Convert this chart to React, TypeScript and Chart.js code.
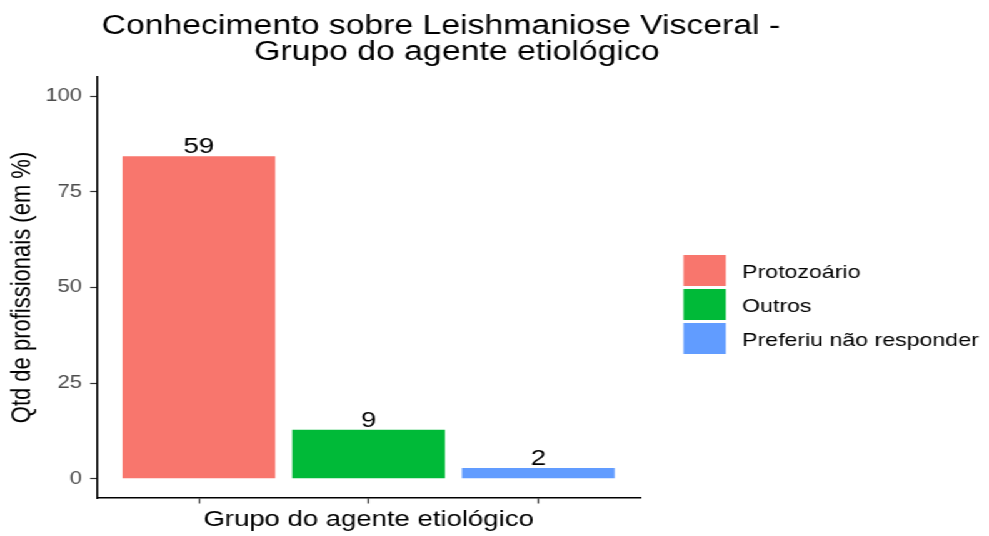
import React, { useEffect, useRef } from "react";
import { Chart, registerables } from "chart.js";

Chart.register(...registerables);

// ---- data ----
const CATEGORIES = ["Protozoário", "Outros", "Preferiu não responder"];
const PERCENTS = [84.29, 12.86, 2.86];
const COUNTS = [59, 9, 2];
const COLORS = ["#F8766D", "#00BA38", "#619CFF"];
const X_POSITIONS = [1, 2, 3];
const Y_TICKS = [0, 25, 50, 75, 100];
const TITLE_LINES = ["Conhecimento sobre Leishmaniose Visceral -", "Grupo do agente etiológico"];
const X_TITLE = "Grupo do agente etiológico";
const Y_TITLE = "Qtd de profissionais (em %)";

// ---- layout ----
const W = 791;
const H = 536;
const SX = 989 / W;
const FONT = '"Liberation Sans", Arial, Helvetica, sans-serif';

const decor = {
  id: "decor",
  afterDatasetsDraw(chart: any) {
    const ctx = chart.ctx;
    const meta = chart.getDatasetMeta(0);
    ctx.save();
    ctx.font = `22px ${FONT}`;
    ctx.fillStyle = "#000";
    ctx.textAlign = "center";
    ctx.textBaseline = "alphabetic";
    meta.data.forEach((el: any, i: number) => {
      ctx.fillText(String(COUNTS[i]), el.x, el.y - 3);
    });
    ctx.restore();
  },
  afterDraw(chart: any) {
    const ctx = chart.ctx;
    ctx.save();
    // title
    ctx.font = `27px ${FONT}`;
    ctx.fillStyle = "#000";
    ctx.textAlign = "center";
    ctx.textBaseline = "alphabetic";
    ctx.fillText(TITLE_LINES[0], 352.7, 34);
    ctx.fillText(TITLE_LINES[1], 365.4, 59.5);
    // legend
    const keyX = 546.6;
    const keyW = 33.9;
    const keyH = 34;
    const top = 253.5;
    CATEGORIES.forEach((lab, i) => {
      const y = top + i * keyH;
      ctx.fillStyle = COLORS[i];
      ctx.fillRect(keyX, y + 1.5, keyW, keyH - 3);
      ctx.fillStyle = "#000";
      ctx.font = `18.5px ${FONT}`;
      ctx.textAlign = "left";
      ctx.textBaseline = "middle";
      ctx.fillText(lab, 593.6, y + keyH / 2 + 2);
    });
    ctx.restore();
  },
};

export default function App() {
  const ref = useRef<HTMLCanvasElement | null>(null);

  useEffect(() => {
    if (!ref.current) return;
    const chart = new Chart(ref.current, {
      type: "bar",
      data: {
        datasets: [
          {
            label: "Qtd",
            data: X_POSITIONS.map((x, i) => ({ x, y: PERCENTS[i] })),
            backgroundColor: COLORS,
            borderWidth: 0,
            categoryPercentage: 1,
            barPercentage: 0.9,
          } as any,
        ],
      },
      options: {
        animation: false,
        responsive: true,
        maintainAspectRatio: false,
        events: [],
        layout: { padding: { top: 77, right: 279, bottom: 0, left: 0 } },
        plugins: {
          legend: { display: false },
          title: { display: false },
          tooltip: { enabled: false },
        },
        scales: {
          x: {
            type: "linear",
            offset: false,
            min: 0.4,
            max: 3.6,
            afterBuildTicks: (s: any) => {
              s.ticks = X_POSITIONS.map((v) => ({ value: v }));
            },
            afterFit: (s: any) => {
              s.height = 38;
            },
            ticks: { display: false },
            grid: {
              offset: false,
              drawOnChartArea: false,
              drawTicks: true,
              tickLength: 5.5,
              tickColor: "#333333",
              tickWidth: 1.2,
            },
            border: { display: true, color: "#000", width: 1.5 },
            title: {
              display: true,
              text: X_TITLE,
              color: "#000",
              font: { family: FONT, size: 22 },
              padding: { top: 0, bottom: 2.4 },
            },
          },
          y: {
            min: -5,
            max: 105,
            afterBuildTicks: (s: any) => {
              s.ticks = Y_TICKS.map((v) => ({ value: v }));
            },
            afterFit: (s: any) => {
              s.width = 77.6;
            },
            ticks: {
              color: "#4D4D4D",
              font: { family: FONT, size: 17.6 },
              padding: 6.5,
            },
            grid: {
              drawOnChartArea: false,
              drawTicks: true,
              tickLength: 5.5,
              tickColor: "#333333",
              tickWidth: 1.2,
            },
            border: { display: true, color: "#000", width: 1.5 },
            title: {
              display: true,
              text: Y_TITLE,
              color: "#000",
              font: { family: FONT, size: 22 },
              padding: { top: 5.2, bottom: 0 },
            },
          },
        },
      } as any,
      plugins: [decor],
    });
    return () => chart.destroy();
  }, []);

  return (
    <div
      style={{
        position: "absolute",
        left: 0,
        top: 0,
        width: W,
        height: H,
        transform: `scaleX(${SX})`,
        transformOrigin: "0 0",
        background: "#fff",
      }}
    >
      <canvas ref={ref} />
    </div>
  );
}
